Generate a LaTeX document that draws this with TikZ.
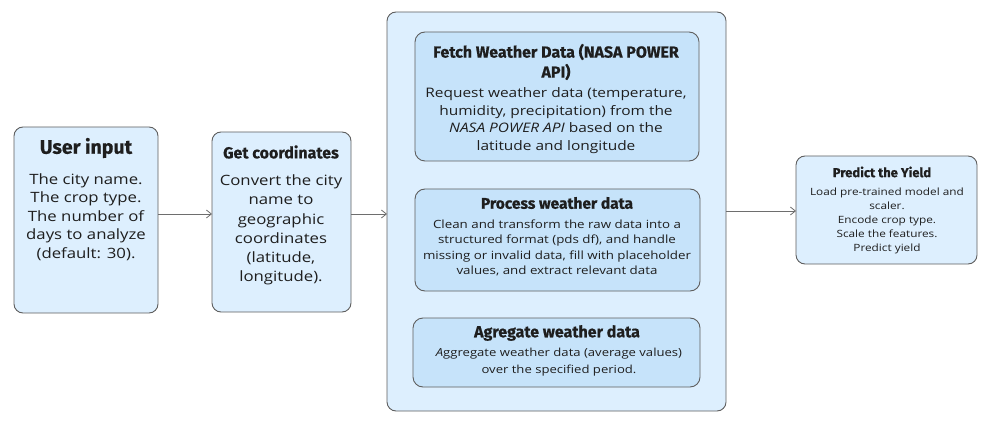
\documentclass[tikz,border=0pt]{standalone}
\usepackage{fontspec}
\setmainfont{Open Sans}[FakeStretch=1.18]
\newfontfamily\titlefont{Fira Sans}[BoldFeatures={FakeBold=0.6}]
\usetikzlibrary{arrows.meta}
\definecolor{outerfill}{HTML}{DDEFFE}
\definecolor{innerfill}{HTML}{C6E3FA}
\definecolor{edgegray}{HTML}{5E5E5E}
\definecolor{arrowgray}{HTML}{6E6E6E}
\definecolor{txt}{HTML}{1E1E1E}
\tikzset{
  boxstyle/.style={draw=edgegray, line width=0.9pt, rounded corners=9pt, fill=outerfill},
  innerbox/.style={draw=edgegray, line width=0.9pt, rounded corners=10pt, fill=innerfill},
  ttl/.style={text=txt, align=center, inner sep=0pt},
  body/.style={text=txt, align=center, inner sep=0pt},
  conn/.style={draw=arrowgray, line width=0.8pt, -{Straight Barb[length=5pt,width=8pt]}},
}
\begin{document}
\begin{tikzpicture}[x=1pt,y=-1pt]
\useasboundingbox (0,0) rectangle (984,430);
% boxes
\path[boxstyle] (14,127) rectangle (158,313);
\coordinate (uiE) at (158,214);
\path[boxstyle] (212,132) rectangle (351,312);
\coordinate (gcW) at (212,214);
\coordinate (gcE) at (351,214);
\path[boxstyle] (387,12) rectangle (726,411);
\coordinate (bigW) at (387,214);
\coordinate (bigE) at (726,211);
\path[innerbox] (415,32) rectangle (699,161);
\path[innerbox] (415,189) rectangle (700,291);
\path[innerbox] (413,318) rectangle (700,387);
\path[boxstyle] (796,156) rectangle (977,264);
\coordinate (prW) at (796,211);
% texts
\node[ttl, font=\titlefont\bfseries\fontsize{19.5}{22}\selectfont] (uit) at (86,148) {User input};
\node[body, font=\fontsize{14.2}{18.5}\selectfont] (uib) at (86,217) {The city name.\\The crop type.\\The number of\\days to analyze\\(default: 30).};
\node[ttl, font=\titlefont\bfseries\fontsize{16}{18}\selectfont] (gct) at (281,152) {Get coordinates};
\node[body, font=\fontsize{14.2}{19.2}\selectfont] (gcb) at (281,230) {Convert the city\\name to\\geographic\\coordinates\\(latitude,\\longitude).};
\node[ttl, font=\titlefont\bfseries\fontsize{16}{20}\selectfont] (ft) at (556,62) {Fetch Weather Data (NASA POWER\\API)};
\node[body, font=\fontsize{13.1}{17.6}\selectfont] (fb) at (556,120.5) {Request weather data (temperature,\\humidity, precipitation) from the\\\textit{NASA POWER API} based on the\\latitude and longitude};
\node[ttl, font=\titlefont\bfseries\fontsize{15.5}{18}\selectfont] (pt) at (557,203) {Process weather data};
\node[body, font=\fontsize{11.3}{15.5}\selectfont] (pb) at (557,248) {Clean and transform the raw data into a\\structured format (pds df), and handle\\missing or invalid data, fill with placeholder\\values, and extract relevant data};
\node[ttl, font=\titlefont\bfseries\fontsize{16}{18}\selectfont] (at) at (557,333) {Agregate weather data};
\node[body, font=\fontsize{11.1}{17}\selectfont] (ab) at (559,362.5) {\textit{A}ggregate weather data (average values)\\over the specified period.};
\node[ttl, font=\titlefont\bfseries\fontsize{13}{15}\selectfont] (prt) at (882,172) {Predict the Yield};
\node[body, font=\fontsize{10}{14.1}\selectfont] (prb) at (887,221) {Load pre-trained model and\\scaler.\\Encode crop type.\\Scale the features.\\Predict yield};
% connectors
\draw[conn] (uiE) -- (gcW);
\draw[conn] (gcE) -- (bigW);
\draw[conn] (bigE) -- (prW);
\end{tikzpicture}
\end{document}
